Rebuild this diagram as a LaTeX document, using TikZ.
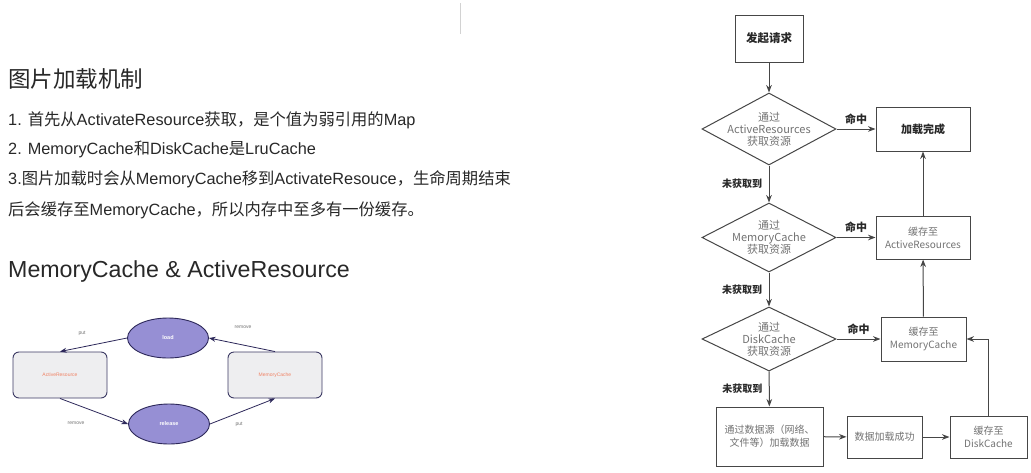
\documentclass[tikz,border=0pt]{standalone}
\usepackage{fontspec}
\setmainfont{Liberation Sans}
\newfontfamily\cjk{Noto Sans CJK SC}
\usetikzlibrary{shapes.geometric,arrows.meta}
\newcommand{\zh}[1]{{\cjk #1}}
\definecolor{inktext}{RGB}{40,40,40}
\definecolor{flowline}{RGB}{70,70,70}
\definecolor{flowgray}{RGB}{115,115,115}
\definecolor{ovalfill}{RGB}{150,143,212}
\definecolor{ovalline}{RGB}{45,40,90}
\definecolor{cachefill}{RGB}{238,238,240}
\definecolor{cacheline}{RGB}{60,58,100}
\definecolor{salmon}{RGB}{240,130,100}
\tikzset{
  notes/.style={anchor=west,inner sep=0pt,text=inktext,font=\fontsize{16.3}{18}\selectfont},
  flowbox/.style={draw=flowline,line width=1pt,rectangle,align=center,inner sep=1pt,
    text=flowgray,font=\cjk\fontsize{10}{13}\selectfont},
  decision/.style={draw=flowline,line width=1pt,diamond,aspect=2,align=center,inner sep=-6pt,
    minimum width=134pt,minimum height=70pt,text=flowgray,font=\cjk\fontsize{11}{12}\selectfont},
  hitlabel/.style={font=\cjk\bfseries\fontsize{11}{12}\selectfont,text=inktext},
  misslabel/.style={font=\cjk\bfseries\fontsize{10}{12}\selectfont,text=inktext},
  cachebox/.style={draw=cacheline,line width=0.9pt,fill=cachefill,rounded corners=6pt,
    minimum width=94pt,minimum height=46pt,text=salmon,font=\fontsize{5}{6}\selectfont},
  stateoval/.style={draw=ovalline,line width=0.9pt,fill=ovalfill,ellipse,minimum width=81pt,
    minimum height=40pt,inner sep=0pt,text=white,font=\bfseries\fontsize{5.5}{6}\selectfont},
  tinylabel/.style={text=flowgray,font=\fontsize{5}{6}\selectfont}
}
\begin{document}
\begin{tikzpicture}[x=1pt,y=-1pt,>=Stealth]
\useasboundingbox[fill=white] (0,0) rectangle (1031,472);
\draw[gray!35,line width=1pt] (460,3) -- (460,34);
% notes on the left
\node[notes,font=\cjk\fontsize{22.5}{24}\selectfont] (title) at (8,79) {图片加载机制};
\node[notes] (line1) at (8,120) {1. \zh{首先从}ActivateResource\zh{获取，是个值为弱引用的}Map};
\node[notes] (line2) at (8,149) {2. MemoryCache\zh{和}DiskCache\zh{是}LruCache};
\node[notes] (line3) at (8,179) {3.\zh{图片加载时会从}MemoryCache\zh{移到}ActivateResouce\zh{，生命周期结束}};
\node[notes] (line4) at (8,210) {\zh{后会缓存至}MemoryCache\zh{，所以内存中至多有一份缓存。}};
\node[notes,font=\fontsize{23.2}{25}\selectfont] (subtitle) at (8,271) {MemoryCache \& ActiveResource};
% small cycle
\node[stateoval] (load) at (168,338) {load};
\node[stateoval] (release) at (169,424) {release};
\node[cachebox] (active) at (60,375) {ActiveResource};
\node[cachebox] (memory) at (275,375) {MemoryCache};
\draw[->,ovalline,line width=0.8pt] (load.west) -- (active.north);
\draw[->,ovalline,line width=0.8pt] (memory.north) -- (load.east);
\draw[->,ovalline,line width=0.8pt] (active.south) -- (release.west);
\draw[->,ovalline,line width=0.8pt] (release.east) -- (memory.south);
\node[tinylabel] (putA) at (82,333) {put};
\node[tinylabel] (removeA) at (243,327) {remove};
\node[tinylabel] (removeB) at (76,423) {remove};
\node[tinylabel] (putB) at (239,424) {put};
% flowchart
\node[flowbox,minimum width=68pt,minimum height=47pt,text=inktext,font=\cjk\bfseries\fontsize{11.5}{13}\selectfont] (request) at (769,38.5) {发起请求};
\node[decision,minimum height=72pt] (askactive) at (769,129) {通过\\ActiveResources\\获取资源};
\node[decision,minimum height=69pt] (askmemory) at (769,237.5) {通过\\MemoryCache\\获取资源};
\node[decision,minimum height=64pt] (askdisk) at (769,339) {通过\\DiskCache\\获取资源};
\node[flowbox,minimum width=94pt,minimum height=44pt,text=inktext,font=\cjk\bfseries\fontsize{11}{13}\selectfont] (finished) at (923,129) {加载完成};
\node[flowbox,minimum width=94pt,minimum height=43pt] (toactive) at (923,237.5) {缓存至\\ActiveResources};
\node[flowbox,minimum width=85pt,minimum height=44pt] (tomemory) at (923.5,339) {缓存至\\MemoryCache};
\node[flowbox,minimum width=107pt,minimum height=59pt] (fetch) at (769.5,436.5) {通过数据源（网络、\\文件等）加载数据};
\node[flowbox,minimum width=75pt,minimum height=42pt] (loaded) at (884.5,437) {数据加载成功};
\node[flowbox,minimum width=77pt,minimum height=42pt] (todisk) at (988.5,437) {缓存至\\DiskCache};
\begin{scope}[flowline,line width=1pt]
\draw[->] (request) -- (askactive);
\draw[->] (askactive) -- node[hitlabel,above,yshift=1pt]{命中} (finished);
\draw[->] (askactive) -- node[misslabel,left,xshift=-3pt]{未获取到} (askmemory);
\draw[->] (askmemory) -- node[hitlabel,above,yshift=1pt]{命中} (toactive);
\draw[->] (askmemory) -- node[misslabel,left,xshift=-3pt]{未获取到} (askdisk);
\draw[->] (askdisk) -- node[hitlabel,above,yshift=1pt]{命中} (tomemory);
\draw[->] (askdisk) -- node[misslabel,left,xshift=-3pt]{未获取到} (fetch);
\draw[->] (toactive) -- (finished);
\draw[->] (tomemory) -- (toactive);
\draw[->] (fetch) -- (loaded);
\draw[->] (loaded) -- (todisk);
\draw[->] (todisk.north) |- (tomemory.east);
\end{scope}
\end{tikzpicture}
\end{document}
